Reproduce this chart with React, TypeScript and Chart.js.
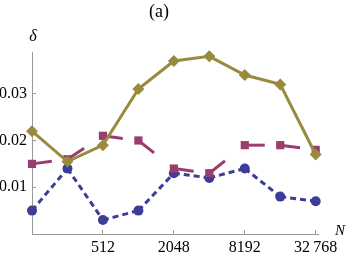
import React, { useEffect, useRef } from 'react';
import { Chart, registerables } from 'chart.js';

Chart.register(...registerables);

const sizesN = [128, 256, 512, 1024, 2048, 4096, 8192, 16384, 32768];
const blueSeries = [0.005, 0.014, 0.003, 0.005, 0.013, 0.012, 0.014, 0.008, 0.007];
const magentaSeries = [0.015, 0.016, 0.021, 0.020, 0.014, 0.013, 0.019, 0.019, 0.018];
const oliveSeries = [0.022, 0.0155, 0.019, 0.031, 0.037, 0.038, 0.034, 0.032, 0.017];
const xTickValues = [512, 2048, 8192, 32768];
const xTickLabels = ['512', '2048', '8192', '32\u2009768'];
const yTickValues = [0.01, 0.02, 0.03];
const yTickLabels = ['0.01', '0.02', '0.03'];
const titleText = '(a)';
const yAxisLabel = 'δ';
const xAxisLabel = 'N';

const BLUE = '#3D3D99';
const MAGENTA = '#993D71';
const OLIVE = '#998B3D';
const AXIS = '#999999';
const SERIF = '"Liberation Serif", "Times New Roman", serif';

const axisLabelsPlugin = {
  id: 'axisLabels',
  afterDraw(chart: any) {
    const { ctx, chartArea } = chart;
    ctx.save();
    ctx.fillStyle = '#000';
    ctx.textAlign = 'center';
    ctx.textBaseline = 'middle';
    ctx.font = `italic 16px ${SERIF}`;
    ctx.fillText(yAxisLabel, chartArea.left + 1, chartArea.top - 16);
    ctx.font = `italic 15px ${SERIF}`;
    ctx.fillText(xAxisLabel, chartArea.right + 22, chartArea.bottom - 3);
    ctx.restore();
  },
};

const toPoints = (vals: number[]) => sizesN.map((x, i) => ({ x, y: vals[i] }));
const restartDash = { borderDashOffset: (c: any) => (c.p0DataIndex % 2) * 0.001 };

export default function App() {
  const ref = useRef<HTMLCanvasElement>(null);
  useEffect(() => {
    document.body.style.margin = '0';
    const chart = new Chart(ref.current!, {
      type: 'line',
      data: {
        datasets: [
          {
            data: toPoints(oliveSeries),
            borderColor: OLIVE,
            backgroundColor: OLIVE,
            borderWidth: 3,
            pointStyle: 'rectRot',
            pointRadius: 6,
            pointBorderWidth: 0,
            pointBackgroundColor: OLIVE,
            clip: false,
            order: 0,
          },
          {
            data: toPoints(magentaSeries),
            borderColor: MAGENTA,
            backgroundColor: MAGENTA,
            borderWidth: 3,
            borderDash: [20, 200],
            borderCapStyle: 'butt',
            segment: restartDash,
            pointStyle: 'rect',
            pointRadius: 5.8,
            pointBorderWidth: 0,
            pointBackgroundColor: MAGENTA,
            clip: false,
            order: 1,
          },
          {
            data: toPoints(blueSeries),
            borderColor: BLUE,
            backgroundColor: BLUE,
            borderWidth: 3,
            borderDash: [6, 4],
            borderCapStyle: 'butt',
            segment: restartDash,
            pointStyle: 'circle',
            pointRadius: 5,
            pointBorderWidth: 0,
            pointBackgroundColor: BLUE,
            clip: false,
            order: 2,
          },
        ],
      } as any,
      options: {
        animation: false,
        responsive: false,
        devicePixelRatio: 1,
        layout: { padding: { left: 0, right: 28, top: 0, bottom: 0 } },
        plugins: {
          legend: { display: false },
          tooltip: { enabled: false },
          title: {
            display: true,
            text: titleText,
            color: '#000',
            font: { family: SERIF, size: 18, weight: 'normal' },
            padding: { top: 1, bottom: 30 },
          },
        },
        scales: {
          x: {
            type: 'logarithmic',
            min: 128,
            max: 34276,
            afterBuildTicks: (s: any) => {
              s.ticks = xTickValues.map((v) => ({ value: v }));
            },
            afterFit: (s: any) => {
              s.height = 23;
            },
            ticks: {
              autoSkip: false,
              maxRotation: 0,
              padding: 8,
              color: '#000',
              font: { family: SERIF, size: 16 },
              callback: (v: any) => {
                const i = xTickValues.indexOf(Number(v));
                return i >= 0 ? xTickLabels[i] : '';
              },
            },
            grid: {
              drawOnChartArea: false,
              drawTicks: true,
              tickLength: -4,
              color: AXIS,
              lineWidth: 1,
            },
            border: { display: true, color: AXIS, width: 1 },
          },
          y: {
            type: 'linear',
            min: 0,
            max: 0.0388,
            afterBuildTicks: (s: any) => {
              s.ticks = yTickValues.map((v) => ({ value: v }));
            },
            afterFit: (s: any) => {
              s.width = 32;
            },
            ticks: {
              autoSkip: false,
              padding: 9,
              color: '#000',
              font: { family: SERIF, size: 16 },
              callback: (v: any) => {
                const i = yTickValues.findIndex((t) => Math.abs(t - Number(v)) < 1e-9);
                return i >= 0 ? yTickLabels[i] : '';
              },
            },
            grid: {
              drawOnChartArea: false,
              drawTicks: true,
              tickLength: -4,
              color: AXIS,
              lineWidth: 1,
            },
            border: { display: true, color: AXIS, width: 1 },
          },
        },
      } as any,
      plugins: [axisLabelsPlugin],
    });
    return () => chart.destroy();
  }, []);
  return (
    <div style={{ width: 346, height: 257 }}>
      <canvas ref={ref} width={346} height={257} />
    </div>
  );
}
